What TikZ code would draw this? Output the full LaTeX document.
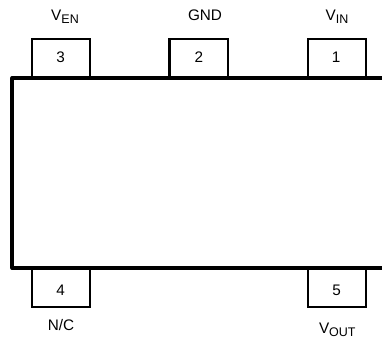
\documentclass[tikz,border=0pt]{standalone}
\usepackage{fontspec}
\setmainfont{Liberation Sans}
\newcommand{\lblfont}{\fontsize{15.3}{17}\selectfont}
\newcommand{\lsub}[1]{\raisebox{-3pt}{\fontsize{12.5}{15}\selectfont #1}}
\tikzset{
  pinbox/.style={draw=black,line width=2.1pt,fill=white,minimum width=58.2pt,minimum height=39pt,inner sep=0pt,outer sep=0pt,anchor=center},
  pinnum/.style={inner sep=0pt,font=\lblfont},
  pinlabel/.style={inner sep=0pt,anchor=base,font=\lblfont},
  body/.style={line width=3.8pt,line cap=round,line join=round}
}
\begin{document}
\begin{tikzpicture}[x=1pt,y=-1pt]
\useasboundingbox (0,0) rectangle (382,339);
\node[pinbox] (p3) at (61.3,58.5) {};
\node[pinbox] (p2) at (198.6,58.5) {};
\node[pinbox] (p1) at (337.3,58.5) {};
\node[pinbox] (p4) at (61.3,287.5) {};
\node[pinbox] (p5) at (337.3,287.5) {};
\node[pinnum] (n3) at (60.7,57.5) {3};
\node[pinnum] (n2) at (199,57.5) {2};
\node[pinnum] (n1) at (336,57.5) {1};
\node[pinnum] (n4) at (60.7,290.7) {4};
\node[pinnum] (n5) at (336.7,290.7) {5};
\coordinate (tr) at (386,78);
\coordinate (tl) at (12.3,78);
\coordinate (bl) at (12.3,268);
\coordinate (br) at (386,268);
\draw[body] (tr) -- (tl) -- (bl) -- (br);
\node[pinlabel] (l3) at (65,21) {V\lsub{EN}};
\node[pinlabel] (l2) at (205,20.7) {GND};
\node[pinlabel] (l1) at (337,21) {V\lsub{IN}};
\node[pinlabel] (l4) at (61,330.7) {N/C};
\node[pinlabel] (l5) at (337.3,333) {V\lsub{OUT}};
\end{tikzpicture}
\end{document}
